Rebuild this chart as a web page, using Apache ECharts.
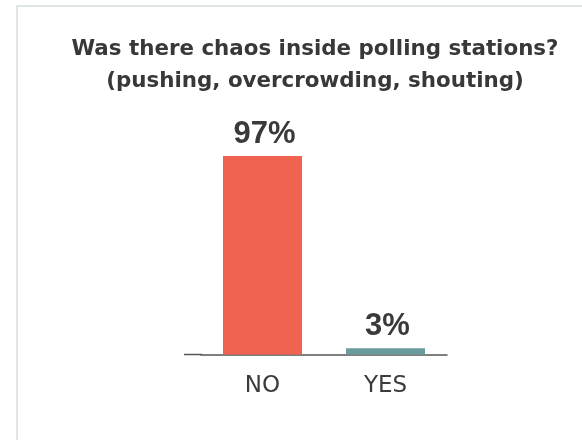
<!DOCTYPE html>
<html>
<head>
<meta charset="utf-8">
<script src="https://cdn.jsdelivr.net/npm/echarts@6/dist/echarts.min.js"></script>
<style>
html,body{margin:0;padding:0;background:#fff;}
#chart{width:582px;height:440px;}
</style>
</head>
<body>
<div id="chart"></div>
<script>
var titleText = 'Was there chaos inside polling stations?\n(pushing, overcrowding, shouting)';
var categories = ['NO', 'YES'];
var values = [97, 3];
var barColors = ['#ef6350', '#6a9c9d'];

var chart = echarts.init(document.getElementById('chart'), null, {renderer: 'canvas'});
chart.setOption({
  backgroundColor: '#ffffff',
  animation: false,
  title: {
    text: titleText,
    left: 310,
    textAlign: 'center',
    top: 28,
    textStyle: {
      fontFamily: 'DejaVu Sans',
      fontWeight: 'bold',
      fontSize: 21.4,
      lineHeight: 32,
      color: '#383838'
    }
  },
  graphic: [
    {type: 'rect', shape: {x: 17, y: 6, width: 620, height: 500}, style: {fill: 'none', stroke: '#dfe6e5', lineWidth: 2}, silent: true},
    {type: 'line', shape: {x1: 184, y1: 354.5, x2: 202, y2: 354.5}, style: {stroke: '#555', lineWidth: 1.5}, silent: true}
  ],
  grid: {left: 201, right: 135, top: 156, bottom: 85.5, containLabel: false},
  xAxis: {
    type: 'category',
    data: categories,
    axisLine: {lineStyle: {color: '#555', width: 1.5}},
    axisTick: {show: false},
    axisLabel: {
      margin: 20,
      fontFamily: 'DejaVu Sans',
      fontSize: 23,
      color: '#3b3b3b'
    }
  },
  yAxis: {
    type: 'value',
    min: 0,
    max: 97,
    show: false
  },
  series: [{
    type: 'bar',
    barWidth: 79,
    data: values.map(function (v, i) { return {value: v, itemStyle: {color: barColors[i]}}; }),
    label: {
      show: true,
      position: 'top',
      distance: 6,
      offset: [2, 0],
      formatter: '{c}%',
      fontFamily: 'Liberation Sans',
      fontWeight: 'bold',
      fontSize: 31,
      color: '#3a3a3a'
    }
  }]
});
</script>
</body>
</html>
